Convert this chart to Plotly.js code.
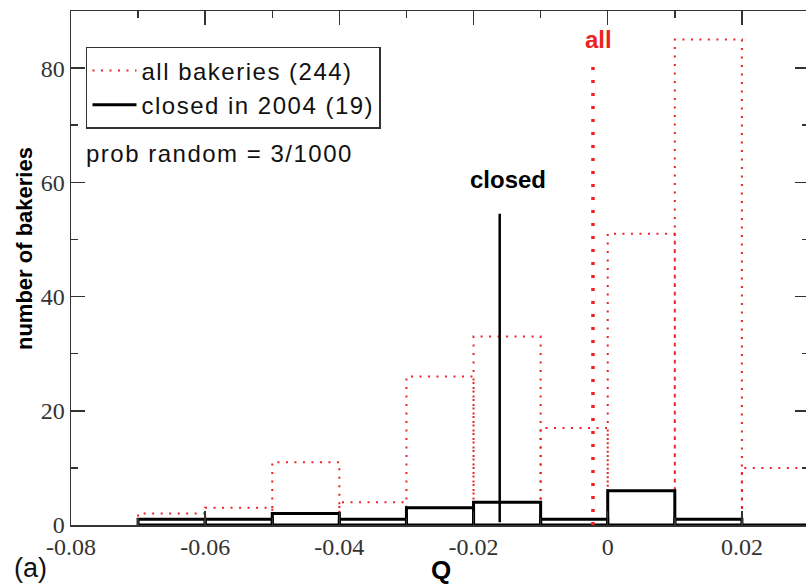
<!DOCTYPE html>
<html>
<head>
<meta charset="utf-8">
<script src="https://cdn.plot.ly/plotly-3.0.1.min.js"></script>
<style>
  html, body { margin: 0; padding: 0; overflow: hidden; background: #fff; }
  #chart { width: 810px; height: 584px; }
  #chart .xtick text, #chart .ytick text { font-family: "Liberation Serif", "DejaVu Serif", serif !important; }
</style>
</head>
<body>
<div id="chart"></div>
<script>
// ---- data ----
const binEdges = [-0.07, -0.06, -0.05, -0.04, -0.03, -0.02, -0.01, 0.0, 0.01, 0.02, 0.03];
const allCounts = [2, 3, 11, 4, 26, 33, 17, 51, 85, 10];
const closedCounts = [1, 1, 2, 1, 3, 4, 1, 6, 1, 0];
const closedMeanQ = -0.0161;
const closedMeanTop = 54.5;
const closedMeanBottom = 0.5;
const allMeanQ = -0.0022;
const allMeanTop = 81.8;
const xTickVals = [-0.08, -0.06, -0.04, -0.02, 0, 0.02];
const xTickText = ['-0.08', '-0.06', '-0.04', '-0.02', '0', '0.02'];
const yTickVals = [0, 20, 40, 60, 80];
const yTickText = ['0', '20', '40', '60', '80'];

// build bar outlines from bin edges and counts
function outline(edges, counts, closeBottom) {
  const xs = [], ys = [];
  for (let i = 0; i < counts.length; i++) {
    const x0 = edges[i], x1 = edges[i + 1], c = counts[i];
    xs.push(x0, x0, x1, x1);
    ys.push(0, c, c, 0);
    if (closeBottom) { xs.push(x0); ys.push(0); }
    xs.push(null); ys.push(null);
  }
  return { xs, ys };
}

const red = 'rgb(238,34,34)';
const axisColor = '#333';
const sansFam = 'Liberation Sans, Arial, sans-serif';
const serifFam = 'Liberation Serif, DejaVu Serif, serif';
const sp = s => '<span style="letter-spacing:1.5px">' + s + '</span>';

const allO = outline(binEdges, allCounts, false);
const closedO = outline(binEdges, closedCounts, true);

const traces = [
  {
    x: allO.xs, y: allO.ys, type: 'scatter', mode: 'lines',
    name: sp('all bakeries (244)'),
    line: { color: red, width: 2, dash: '2px,6.5px' },
    connectgaps: false, hoverinfo: 'skip'
  },
  {
    x: closedO.xs, y: closedO.ys, type: 'scatter', mode: 'lines',
    name: sp('closed in 2004 (19)'),
    line: { color: '#000', width: 3 },
    connectgaps: false, hoverinfo: 'skip'
  },
  {
    x: [closedMeanQ, closedMeanQ], y: [closedMeanBottom, closedMeanTop],
    type: 'scatter', mode: 'lines', showlegend: false,
    line: { color: '#000', width: 2.5 }, hoverinfo: 'skip'
  },
  {
    x: [allMeanQ, allMeanQ], y: [0, allMeanTop],
    type: 'scatter', mode: 'lines', showlegend: false,
    line: { color: red, width: 3.5, dash: '3px,10px' }, hoverinfo: 'skip'
  }
];

const layout = {
  width: 810, height: 584,
  margin: { l: 71, r: 1, t: 11, b: 59 },
  paper_bgcolor: '#fff', plot_bgcolor: '#fff',
  font: { family: sansFam },
  showlegend: true,
  legend: {
    x: 0.0203, y: 0.930, xanchor: 'left', yanchor: 'top',
    bgcolor: '#fff', bordercolor: axisColor, borderwidth: 1.5,
    font: { family: sansFam, size: 24, color: '#111' },
    itemwidth: 44, traceorder: 'normal'
  },
  xaxis: {
    range: [-0.08, 0.03],
    tickmode: 'array', tickvals: xTickVals, ticktext: xTickText,
    ticks: 'inside', ticklen: 14, tickwidth: 1.5, tickcolor: axisColor,
    minor: { tickmode: 'linear', tick0: -0.08, dtick: 0.01, ticks: 'inside', ticklen: 7, tickwidth: 1.5, tickcolor: axisColor, showgrid: false },
    showline: true, linecolor: axisColor, linewidth: 1.5, mirror: 'ticks',
    showgrid: false, zeroline: false,
    tickfont: { family: serifFam, size: 24, color: axisColor }
  },
  yaxis: {
    range: [0, 90],
    tickmode: 'array', tickvals: yTickVals, ticktext: yTickText,
    ticks: 'inside', ticklen: 14, tickwidth: 1.5, tickcolor: axisColor,
    minor: { tickmode: 'linear', tick0: 0, dtick: 10, ticks: 'inside', ticklen: 7, tickwidth: 1.5, tickcolor: axisColor, showgrid: false },
    showline: true, linecolor: axisColor, linewidth: 1.5, mirror: 'ticks',
    showgrid: false, zeroline: false,
    tickfont: { family: serifFam, size: 24, color: axisColor }
  },
  annotations: [
    { text: 'number of bakeries', xref: 'paper', yref: 'paper', x: -0.0623, y: 0.537,
      xanchor: 'center', yanchor: 'middle', textangle: -90, showarrow: false,
      font: { family: sansFam, size: 22, color: '#000', weight: 'bold' } },
    { text: 'Q', xref: 'paper', yref: 'paper', x: 0.502, y: -0.0875,
      xanchor: 'center', yanchor: 'middle', showarrow: false,
      font: { family: sansFam, size: 26, color: '#000', weight: 'bold' } },
    { text: '(a)', xref: 'paper', yref: 'paper', x: -0.0799, y: -0.0837,
      xanchor: 'left', yanchor: 'middle', showarrow: false,
      font: { family: sansFam, size: 27, color: '#111' } },
    { text: sp('prob random = 3/1000'), xref: 'paper', yref: 'paper', x: 0.017, y: 0.7218,
      xanchor: 'left', yanchor: 'middle', showarrow: false,
      font: { family: sansFam, size: 24, color: '#111' } },
    { text: 'closed', xref: 'paper', yref: 'paper', x: 0.592, y: 0.673,
      xanchor: 'center', yanchor: 'middle', showarrow: false,
      font: { family: sansFam, size: 24, color: '#000', weight: 'bold' } },
    { text: 'all', xref: 'paper', yref: 'paper', x: 0.7154, y: 0.9436,
      xanchor: 'center', yanchor: 'middle', showarrow: false,
      font: { family: sansFam, size: 24, color: red, weight: 'bold' } }
  ]
};

Plotly.newPlot('chart', traces, layout, { displayModeBar: false, staticPlot: true });
</script>
</body>
</html>
